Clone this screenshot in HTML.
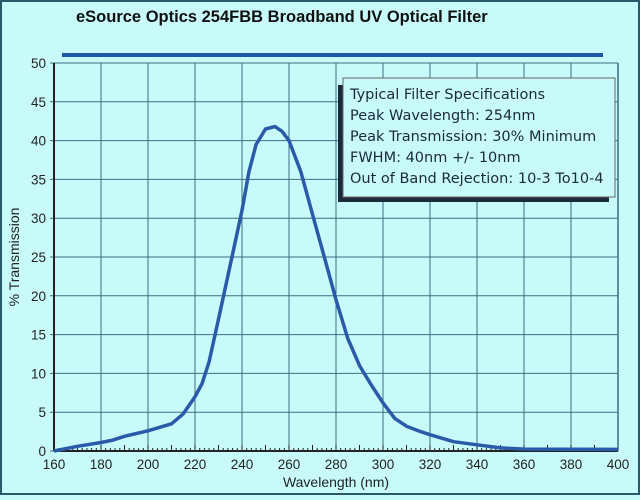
<!DOCTYPE html>
<html><head><meta charset="utf-8"><style>
html,body{margin:0;padding:0;}
body{width:640px;height:495px;overflow:hidden;background:#c9fafa;font-family:"Liberation Sans",sans-serif;}
</style></head><body>
<svg width="640" height="495" xmlns="http://www.w3.org/2000/svg">
<rect x="0" y="0" width="640" height="495" fill="#c9fafa"/>
<rect x="1" y="1" width="638" height="493" fill="none" stroke="#2a5a6a" stroke-width="2"/>
<text x="76" y="22" font-size="16.5" font-weight="bold" fill="#111">eSource Optics 254FBB Broadband UV Optical Filter</text>
<rect x="62" y="53" width="541" height="4" fill="#1e56a8"/>
<g id="grid"></g>
<g id="axes"></g>
<path id="curve" fill="none" stroke="#2a5aa8" stroke-width="3.5" stroke-linejoin="round"/>
<g>
<rect x="338" y="85" width="271" height="117" fill="#1a2a3a"/>
<rect x="343" y="78" width="272" height="119" fill="#c9fafa" stroke="#666" stroke-width="1"/>
<g font-size="14.5" fill="#1a2a3a" font-family="'DejaVu Sans','Liberation Sans',sans-serif">
<text x="350" y="99">Typical Filter Specifications</text>
<text x="350" y="120">Peak Wavelength: 254nm</text>
<text x="350" y="141">Peak Transmission: 30% Minimum</text>
<text x="350" y="162">FWHM: 40nm +/- 10nm</text>
<text x="350" y="183">Out of Band Rejection: 10-3 To10-4</text>
</g></g>
<text x="336" y="487" font-size="14" fill="#222" text-anchor="middle">Wavelength (nm)</text>
<text font-size="14" fill="#222" text-anchor="middle" transform="translate(19,257) rotate(-90)">% Transmission</text>
</svg>
<script>
const wavelengths=[160,170,180,185,190,200,210,215,220,223,226,230,235,240,243,246,250,254,257,260,265,270,275,280,285,290,295,300,305,310,315,320,330,340,350,360,400];
const transmission=[0,0.6,1.1,1.4,1.9,2.6,3.5,4.8,7,8.7,11.5,17,24,31,36,39.5,41.5,41.8,41.2,40,36,30.5,25,19.5,14.5,11,8.5,6.2,4.2,3.2,2.6,2.1,1.2,0.8,0.4,0.25,0.2];
const xTicks=[160,180,200,220,240,260,280,300,320,340,360,380,400];
const yTicks=[0,5,10,15,20,25,30,35,40,45,50];
const NS='http://www.w3.org/2000/svg';
const X0=54,X1=618,Y0=451,Y1=63;
const xs=v=>X0+(v-160)/(400-160)*(X1-X0);
const ys=v=>Y0-(v/50)*(Y0-Y1);
function mk(tag,attrs,parent){const e=document.createElementNS(NS,tag);for(const k in attrs)e.setAttribute(k,attrs[k]);parent.appendChild(e);return e;}
const grid=document.getElementById('grid'),axes=document.getElementById('axes');
xTicks.forEach(t=>{
 const l=mk('line',{x1:xs(t),x2:xs(t),y1:Y1,y2:Y0,stroke:'#3b6e80','stroke-width':1},grid);
 
 
 const tx=mk('text',{x:xs(t),y:Y0+18,'font-size':13.5,fill:'#222','text-anchor':'middle'},axes);
 tx.textContent=t;
 
 
});
yTicks.forEach(t=>{
 const l=mk('line',{x1:X0-4,x2:X1,y1:ys(t),y2:ys(t),stroke:'#3b6e80','stroke-width':1},grid);
 
 
 const tx=mk('text',{x:X0-8,y:ys(t)+5,'font-size':13.5,fill:'#222','text-anchor':'end'},axes);
 tx.textContent=t;
 
 
});
for(let w=160;w<=400;w+=2){
 const len=(w%10===0)?6:3;
 const m=mk('line',{x1:xs(w),x2:xs(w),y1:Y0,y2:Y0-len,stroke:'#222','stroke-width':1},axes);
 
 
}
const ax=mk('line',{x1:X0,x2:X1,y1:Y0,y2:Y0,stroke:'#222','stroke-width':2},axes);


const ay=mk('line',{x1:X0,x2:X0,y1:Y1,y2:Y0,stroke:'#222','stroke-width':2},axes);


const ar=mk('line',{x1:X1,x2:X1,y1:Y1,y2:Y0,stroke:'#3b6e80','stroke-width':1.5},axes);


document.getElementById('curve').setAttribute('d',wavelengths.map((w,i)=>(i?'L':'M')+xs(w).toFixed(1)+','+ys(transmission[i]).toFixed(1)).join(' '));
</script>
</body></html>
